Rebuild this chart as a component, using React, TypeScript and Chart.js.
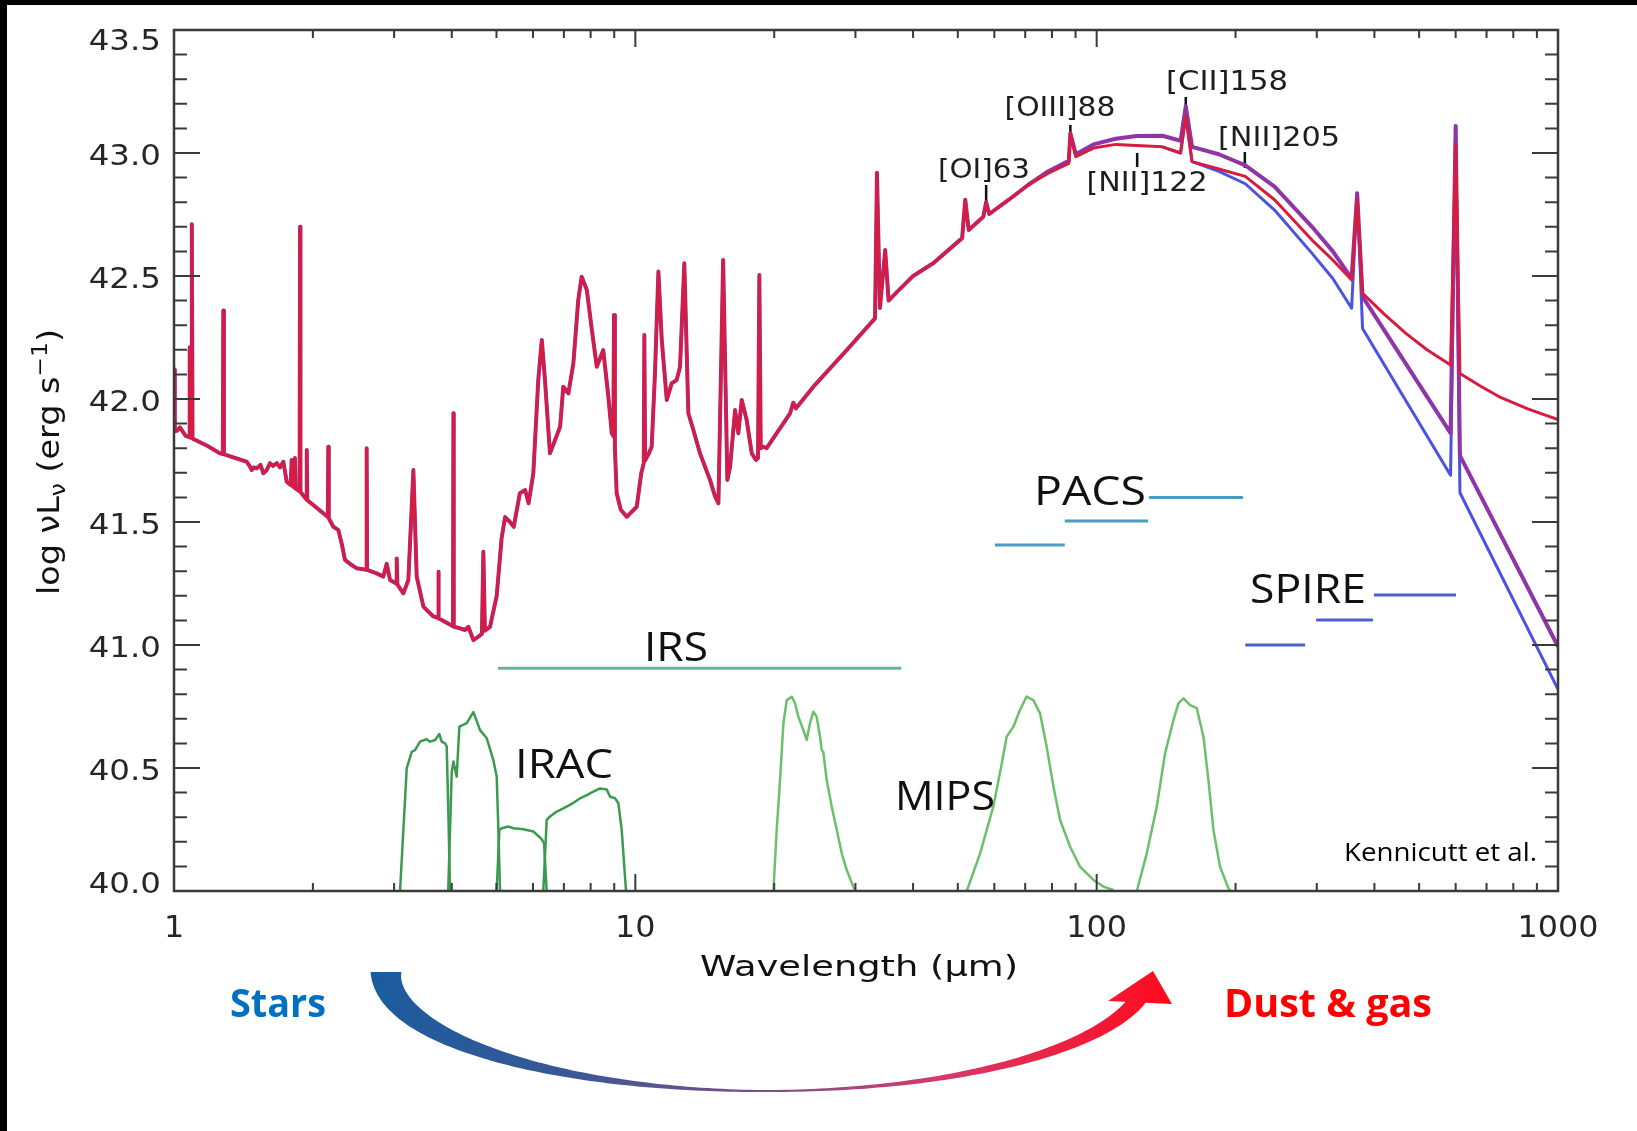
import React, { useEffect, useRef } from "react";
import { Chart, registerables } from "chart.js";

Chart.register(...registerables);

type P = [number, number];

// ---------- axis ticks ----------
const wavelengthTicks = [1, 10, 100, 1000];
const lumTicks = [40.0, 40.5, 41.0, 41.5, 42.0, 42.5, 43.0, 43.5];

// ---------- SED (wavelength µm, log nuL_nu) ----------
const sedRed: P[] = [
  [1.0, 42.12], [1.004, 41.87], [1.013, 41.87], [1.03, 41.885], [1.06, 41.85],
  [1.078, 41.845], [1.08, 42.21], [1.083, 41.845],
  [1.09, 41.842], [1.093, 42.71], [1.097, 41.84],
  [1.1, 41.838], [1.18, 41.81], [1.258, 41.779],
  [1.276, 41.776], [1.279, 42.36], [1.283, 41.775],
  [1.3, 41.772], [1.437, 41.745], [1.461, 41.725], [1.474, 41.711], [1.49, 41.722],
  [1.511, 41.718], [1.54, 41.732], [1.562, 41.698], [1.588, 41.711], [1.615, 41.739],
  [1.64, 41.728], [1.67, 41.739], [1.697, 41.722], [1.726, 41.745], [1.755, 41.664],
  [1.79, 41.65], [1.799, 41.752], [1.81, 41.645],
  [1.825, 41.64], [1.829, 41.76], [1.835, 41.636],
  [1.872, 41.625], [1.876, 42.70], [1.88, 41.622],
  [1.936, 41.592], [1.94, 41.793], [1.945, 41.589],
  [2.155, 41.52], [2.16, 41.806], [2.165, 41.515],
  [2.215, 41.481], [2.271, 41.467], [2.309, 41.413], [2.348, 41.346], [2.427, 41.325],
  [2.489, 41.312], [2.61, 41.306], [2.616, 41.80], [2.622, 41.305],
  [2.75, 41.291], [2.843, 41.278], [2.891, 41.33], [2.94, 41.264],
  [3.03, 41.25], [3.039, 41.352], [3.05, 41.245],
  [3.142, 41.21], [3.221, 41.264], [3.303, 41.711], [3.358, 41.278], [3.472, 41.156],
  [3.649, 41.116], [3.735, 41.11], [3.741, 41.298], [3.75, 41.108], [3.804, 41.102],
  [4.025, 41.076], [4.033, 41.942], [4.04, 41.074],
  [4.169, 41.068], [4.274, 41.061], [4.346, 41.074], [4.456, 41.02], [4.569, 41.034],
  [4.65, 41.045], [4.684, 41.379], [4.72, 41.058],
  [4.842, 41.074], [5.006, 41.2], [5.13, 41.434], [5.22, 41.52], [5.35, 41.5],
  [5.45, 41.48], [5.62, 41.617], [5.77, 41.63], [5.87, 41.576], [6.01, 41.698],
  [6.16, 42.077], [6.27, 42.24], [6.37, 42.077], [6.53, 41.779], [6.7, 41.833],
  [6.87, 41.887], [6.98, 42.05], [7.16, 42.023], [7.34, 42.145], [7.52, 42.402],
  [7.65, 42.497], [7.85, 42.443], [8.05, 42.28], [8.25, 42.131], [8.52, 42.199],
  [8.74, 42.009], [8.89, 41.861], [8.96, 41.85], [8.99, 42.341], [9.03, 41.8],
  [9.11, 41.617], [9.3, 41.55], [9.58, 41.521], [10.07, 41.562], [10.3, 41.698],
  [10.43, 41.74], [10.46, 42.26], [10.5, 41.75], [10.7, 41.779], [10.85, 41.806],
  [11.03, 42.104], [11.22, 42.518], [11.41, 42.24], [11.7, 41.996], [11.99, 42.064],
  [12.29, 42.077], [12.5, 42.131], [12.77, 42.552], [13.03, 41.942], [13.36, 41.874],
  [13.81, 41.779], [14.52, 41.671], [14.89, 41.603], [15.14, 41.576], [15.5, 42.565],
  [15.83, 41.671], [16.05, 41.725], [16.45, 41.955], [16.72, 41.861], [17.01, 41.996],
  [17.43, 41.915], [17.88, 41.779], [18.26, 41.752], [18.45, 41.76], [18.57, 42.504],
  [18.7, 41.8], [18.94, 41.806], [19.26, 41.8], [21.65, 41.942], [22.0, 41.985],
  [22.3, 41.962], [24.32, 42.05], [28.72, 42.199], [33.08, 42.328], [33.4, 42.92],
  [33.9, 42.37], [34.8, 42.606], [35.4, 42.40], [36.7, 42.43], [40.0, 42.50], [44.3, 42.553],
  [51.1, 42.654], [51.9, 42.81], [52.8, 42.687], [56.8, 42.741], [57.6, 42.80],
  [58.5, 42.752], [64.5, 42.81], [71.0, 42.87], [78.4, 42.917], [87.0, 42.958], [87.7, 43.08],
  [90.1, 42.985], [98.4, 43.02], [110, 43.035], [122, 43.03], [138.8, 43.025],
  [152, 43.0], [156, 43.15], [161, 42.965], [184, 42.935], [210, 42.905], [243, 42.81],
  [293, 42.646], [325, 42.565], [357, 42.484], [367, 42.809], [377, 42.43], [420, 42.345],
  [468, 42.267], [520, 42.2], [585, 42.138], [600, 43.03], [613, 42.104], [680, 42.052],
  [746, 42.009], [860, 41.96], [1000, 41.916],
];

const sedPurpleFar: P[] = [
  [78.4, 42.925], [87.0, 42.968], [87.7, 43.08], [90.1, 42.995], [98.4, 43.035],
  [110, 43.058], [122, 43.069], [138.8, 43.07], [152, 43.05], [156, 43.19],
  [161, 43.025], [184, 42.995], [210, 42.95], [243, 42.863], [293, 42.70], [325, 42.6],
  [357, 42.49], [367, 42.836], [377, 42.416], [585, 41.861], [600, 43.11], [613, 41.77],
  [1000, 40.994],
];

const sedBlueFar: P[] = [
  [138.8, 43.025], [152, 43.0], [156, 43.15], [161, 42.965], [184, 42.925],
  [210, 42.875], [243, 42.768], [293, 42.592], [325, 42.49], [357, 42.369], [367, 42.836],
  [377, 42.287], [585, 41.69], [600, 43.11], [613, 41.619], [1000, 40.82],
];

// ---------- filter transmission curves (drawn on the same axes) ----------
const iracCh1: P[] = [
  [3.09, 40.0], [3.195, 40.499], [3.276, 40.566], [3.33, 40.573], [3.414, 40.607],
  [3.53, 40.617], [3.589, 40.607], [3.681, 40.614], [3.76, 40.638], [3.805, 40.607],
  [3.868, 40.6], [3.901, 40.587], [3.933, 40.316], [3.966, 40.0],
];
const iracCh2: P[] = [
  [3.93, 40.0], [4.0, 40.485], [4.033, 40.526], [4.1, 40.465], [4.155, 40.668],
  [4.311, 40.682], [4.456, 40.727], [4.607, 40.654], [4.763, 40.621], [4.922, 40.533],
  [5.006, 40.465], [5.048, 40.248], [5.09, 40.0],
];
const iracCh3: P[] = [
  [5.006, 40.0], [5.073, 40.248], [5.132, 40.255], [5.305, 40.262], [5.439, 40.255],
  [5.719, 40.251], [6.01, 40.242], [6.266, 40.211], [6.34, 40.194], [6.425, 40.0],
];
const iracCh4: P[] = [
  [6.317, 40.0], [6.425, 40.289], [6.534, 40.303], [6.755, 40.323], [6.982, 40.336],
  [7.279, 40.354], [7.59, 40.377], [7.847, 40.39], [8.11, 40.404], [8.386, 40.417],
  [8.67, 40.413], [8.815, 40.383], [9.036, 40.377], [9.188, 40.357], [9.343, 40.248],
  [9.546, 40.0],
];
const mips24: P[] = [
  [19.92, 40.0], [20.25, 40.248], [20.59, 40.451], [20.94, 40.682], [21.29, 40.776],
  [21.83, 40.79], [22.19, 40.763], [22.56, 40.709], [23.13, 40.654], [23.52, 40.614],
  [23.91, 40.682], [24.31, 40.729], [24.72, 40.709], [25.14, 40.627], [25.35, 40.573],
  [25.55, 40.566], [25.99, 40.451], [26.65, 40.343], [27.33, 40.248], [28.02, 40.153],
  [28.72, 40.085], [29.7, 40.017], [29.95, 40.0],
];
const mips70: P[] = [
  [52.3, 40.0], [55.9, 40.153], [59.7, 40.343], [62.3, 40.519], [63.8, 40.627],
  [66.0, 40.668], [68.2, 40.736], [70.5, 40.79], [72.9, 40.776], [75.4, 40.722],
  [77.9, 40.587], [80.6, 40.424], [83.3, 40.289], [87.6, 40.18], [92.0, 40.099],
  [98.4, 40.045], [103.4, 40.018], [108.7, 40.004],
];
const mips160: P[] = [
  [122.2, 40.0], [128.4, 40.153], [135.0, 40.343], [140.7, 40.56], [146.7, 40.695],
  [150.4, 40.763], [154.2, 40.783], [159.4, 40.756], [164.8, 40.743], [170.4, 40.627],
  [174.7, 40.451], [179.1, 40.248], [185.1, 40.099], [193.0, 40.011], [195.0, 40.0],
];

// ---------- instrument coverage bars: [from µm, to µm, level] ----------
const irsBands: [number, number, number][] = [[5.04, 37.7, 40.905]];
const pacsBands: [number, number, number][] = [[60.2, 85.3, 41.407], [85.3, 129.3, 41.504], [129.9, 207.7, 41.6]];
const spireBands: [number, number, number][] = [[210, 283, 41.0], [299, 397, 41.102], [399, 601, 41.203]];

// ---------- emission-line markers ----------
const lineNames = ["[OI]63", "[OIII]88", "[NII]122", "[CII]158", "[NII]205"];
const lineMarkerX = [57.6, 87.7, 122.4, 156, 209.5];
const lineMarkerY: P[] = [[42.78, 42.87], [43.065, 43.114], [42.943, 43.0], [43.155, 43.228], [42.939, 43.004]];

// ---------- helpers ----------
const toXY = (arr: P[]) => arr.map(([x, y]) => ({ x, y }));
const segs = (bands: [number, number, number][]) =>
  bands.flatMap(([a, b, v]) => [{ x: a, y: v }, { x: b, y: v }, { x: b, y: null as any }]);

function fitText(
  ctx: CanvasRenderingContext2D, s: string, x: number, y: number, font: string,
  color: string, align: "left" | "center" | "right", targetW?: number, sxIn?: number
) {
  ctx.save();
  ctx.font = font;
  ctx.fillStyle = color;
  ctx.textBaseline = "alphabetic";
  ctx.textAlign = "left";
  const mw = ctx.measureText(s).width;
  const sx = sxIn ?? (targetW ? targetW / mw : 1);
  const w = mw * sx;
  const x0 = align === "left" ? x : align === "center" ? x - w / 2 : x - w;
  ctx.translate(x0, y);
  ctx.scale(sx, 1);
  ctx.fillText(s, 0, 0);
  ctx.restore();
}

function drawArrow(ctx: CanvasRenderingContext2D) {
  const cx = 767, cy = 972, rx = 381, ry = 119, tEnd = 0.2, N = 160;
  const outer: P[] = [];
  const inner: P[] = [];
  for (let i = 0; i <= N; i++) {
    const t = Math.PI - ((Math.PI - tEnd) * i) / N;
    const px = cx + rx * Math.cos(t);
    const py = cy + ry * Math.sin(t);
    let nx = ry * Math.cos(t), ny = rx * Math.sin(t);
    const nl = Math.hypot(nx, ny);
    nx /= nl; ny /= nl;
    let w: number;
    if (t >= Math.PI / 2) {
      const f = (t - Math.PI / 2) / (Math.PI / 2);
      w = 2 + 29 * Math.pow(f, 1.5);
    } else {
      const f = (Math.PI / 2 - t) / (Math.PI / 2 - tEnd);
      w = 2 + 15 * Math.pow(f, 1.5);
    }
    outer.push([px + (nx * w) / 2, py + (ny * w) / 2]);
    inner.push([px - (nx * w) / 2, py - (ny * w) / 2]);
  }
  const g = ctx.createLinearGradient(370, 0, 1171, 0);
  g.addColorStop(0, "#1a5c9f");
  g.addColorStop(0.25, "#3a5796");
  g.addColorStop(0.5, "#7d5088");
  g.addColorStop(0.72, "#d8386a");
  g.addColorStop(1, "#ff0a1c");
  ctx.save();
  ctx.fillStyle = g;
  ctx.beginPath();
  outer.forEach(([x, y], i) => (i === 0 ? ctx.moveTo(x, y) : ctx.lineTo(x, y)));
  for (let i = inner.length - 1; i >= 0; i--) ctx.lineTo(inner[i][0], inner[i][1]);
  ctx.closePath();
  ctx.fill();
  ctx.beginPath();
  ctx.moveTo(1153, 971);
  ctx.lineTo(1172, 1004);
  ctx.lineTo(1108, 1001);
  ctx.closePath();
  ctx.fill();
  ctx.restore();
}

const framePlugin = {
  id: "sedFrame",
  beforeDraw(chart: any) {
    const ctx: CanvasRenderingContext2D = chart.ctx;
    ctx.save();
    ctx.fillStyle = "#ffffff";
    ctx.fillRect(0, 0, chart.width, chart.height);
    ctx.fillStyle = "#000000";
    ctx.fillRect(0, 0, chart.width, 5);
    ctx.fillRect(0, 0, 7, chart.height);
    ctx.restore();
  },
  afterDraw(chart: any) {
    const ctx: CanvasRenderingContext2D = chart.ctx;
    const a = chart.chartArea;
    const xs = chart.scales.x;
    const ys = chart.scales.y;
    const axisColor = "#3a3a3a";
    ctx.save();
    ctx.strokeStyle = axisColor;
    ctx.lineWidth = 2.5;
    ctx.strokeRect(a.left, a.top, a.right - a.left, a.bottom - a.top);
    ctx.lineWidth = 2;
    ctx.beginPath();
    for (const d of [1, 10, 100]) {
      for (let m = 1; m <= 9; m++) {
        const v = d * m;
        const px = xs.getPixelForValue(v);
        const len = m === 1 ? 17 : 8;
        ctx.moveTo(px, a.bottom); ctx.lineTo(px, a.bottom - len);
        ctx.moveTo(px, a.top); ctx.lineTo(px, a.top + len);
      }
    }
    for (let i = 0; i <= 35; i++) {
      const v = 40 + i * 0.1;
      const py = ys.getPixelForValue(v);
      const len = i % 5 === 0 ? 26 : 13;
      ctx.moveTo(a.left, py); ctx.lineTo(a.left + len, py);
      ctx.moveTo(a.right, py); ctx.lineTo(a.right - len, py);
    }
    ctx.stroke();
    ctx.restore();

    const tickFont = '29px "DejaVu Sans", sans-serif';
    lumTicks.forEach((v, i) => {
      let base = ys.getPixelForValue(v) + 11.5;
      if (i === 0) base = 893;
      if (i === lumTicks.length - 1) base = 50;
      fitText(ctx, v.toFixed(1), 161, base, tickFont, "#262626", "right", undefined, 1.12);
    });
    wavelengthTicks.forEach((v) => {
      fitText(ctx, String(v), xs.getPixelForValue(v), 937, '30px "DejaVu Sans", sans-serif', "#262626", "center", undefined, 1.06);
    });
    fitText(ctx, "Wavelength (\u00b5m)", 859, 976, '29px "DejaVu Sans", sans-serif', "#111111", "center", 318);

    // y-axis title (rotated)
    ctx.save();
    ctx.translate(59, 462);
    ctx.rotate(-Math.PI / 2);
    ctx.fillStyle = "#111111";
    ctx.textBaseline = "alphabetic";
    const big = '30px "DejaVu Sans", sans-serif';
    const small = '21px "DejaVu Sans", sans-serif';
    const parts: [string, string, number][] = [
      ["log \u03bd", big, 0], ["L", big, 0], ["\u03bd", small, 6],
      [" (erg s", big, 0], ["\u22121", small, -12], [")", big, 0],
    ];
    let total = 0;
    const widths = parts.map(([s, f]) => { ctx.font = f; const w = ctx.measureText(s).width; total += w; return w; });
    const sx = 266 / total;
    let xcur = -133;
    parts.forEach(([s, f, dy], i) => {
      ctx.save();
      ctx.font = f;
      ctx.translate(xcur, dy);
      ctx.scale(sx, 1);
      ctx.fillText(s, 0, 0);
      ctx.restore();
      xcur += widths[i] * sx;
    });
    ctx.restore();

    const lab = '41px "Open Sans", sans-serif';
    fitText(ctx, "IRS", 676, 661, lab, "#111111", "center", 64);
    fitText(ctx, "IRAC", 564, 778, lab, "#111111", "center", 98);
    fitText(ctx, "MIPS", 945, 810, lab, "#111111", "center", 100);
    fitText(ctx, "PACS", 1090, 505, lab, "#111111", "center", 112);
    fitText(ctx, "SPIRE", 1308, 603, lab, "#111111", "center", 116);

    const lf = '27px "DejaVu Sans", sans-serif';
    const linePos: [number, number, number][] = [
      [984, 178, 92], [1060, 116, 111], [1147, 191, 121], [1227, 90, 122], [1279, 146, 122],
    ];
    lineNames.forEach((n, i) => {
      const [x, y, w] = linePos[i];
      fitText(ctx, n, x, y, lf, "#1e1e1e", "center", w);
    });

    fitText(ctx, "Kennicutt et al.", 1537, 861, '26px "Open Sans", sans-serif', "#000000", "right", 193);

    drawArrow(ctx);
    fitText(ctx, "Stars", 278, 1017, 'bold 40px "Open Sans", sans-serif', "#0070c0", "center", 96);
    fitText(ctx, "Dust & gas", 1328, 1017, 'bold 40px "Open Sans", sans-serif', "#ff0000", "center", 208);
  },
};

export default function App() {
  const ref = useRef<HTMLCanvasElement>(null);
  useEffect(() => {
    const mk = (label: string, data: any[], color: string, width: number, order: number) => ({
      label, data, borderColor: color, backgroundColor: color, borderWidth: width,
      pointRadius: 0, pointHoverRadius: 0, fill: false, tension: 0, order,
      borderJoinStyle: "round" as const, borderCapStyle: "butt" as const, spanGaps: false,
    });
    const purpleData = [...sedRed.filter(([l]) => l < 78), ...sedPurpleFar];
    const markerData = lineMarkerX.flatMap((x, i) => [
      { x, y: lineMarkerY[i][0] }, { x, y: lineMarkerY[i][1] }, { x, y: null as any },
    ]);
    const chart = new Chart(ref.current as HTMLCanvasElement, {
      type: "line",
      data: {
        datasets: [
          mk("SED model A", toXY(sedRed), "#d81c40", 3, 0),
          mk("SED model B", toXY(purpleData), "#8e35a8", 4, 1),
          mk("SED model C", toXY(sedBlueFar), "#4c53e0", 3, 2),
          mk("line markers", markerData, "#111111", 2.5, 3),
          mk("IRS", segs(irsBands), "#5bb89c", 3, 4),
          mk("PACS", segs(pacsBands), "#4a9cc0", 3, 4),
          mk("SPIRE", segs(spireBands), "#4a5fd0", 3, 4),
          mk("IRAC 3.6", toXY(iracCh1), "#3c9a50", 2.5, 5),
          mk("IRAC 4.5", toXY(iracCh2), "#3c9a50", 2.5, 5),
          mk("IRAC 5.8", toXY(iracCh3), "#3c9a50", 2.5, 5),
          mk("IRAC 8.0", toXY(iracCh4), "#3c9a50", 2.5, 5),
          mk("MIPS 24", toXY(mips24), "#6cc06a", 2.5, 5),
          mk("MIPS 70", toXY(mips70), "#6cc06a", 2.5, 5),
          mk("MIPS 160", toXY(mips160), "#6cc06a", 2.5, 5),
        ],
      },
      options: {
        responsive: false,
        animation: false,
        devicePixelRatio: 1,
        events: [],
        layout: { padding: { left: 174, right: 79, top: 30, bottom: 240 } },
        plugins: {
          legend: { display: false },
          tooltip: { enabled: false },
          title: { display: false },
        },
        scales: {
          x: { type: "logarithmic", min: 1, max: 1000, display: false },
          y: { type: "linear", min: 40, max: 43.5, display: false },
        },
      },
      plugins: [framePlugin],
    } as any);
    return () => chart.destroy();
  }, []);
  return (
    <div style={{ position: "absolute", left: 0, top: 0, width: 1637, height: 1131, background: "#ffffff", overflow: "hidden" }}>
      <canvas ref={ref} width={1637} height={1131} style={{ display: "block", width: 1637, height: 1131 }} />
    </div>
  );
}
